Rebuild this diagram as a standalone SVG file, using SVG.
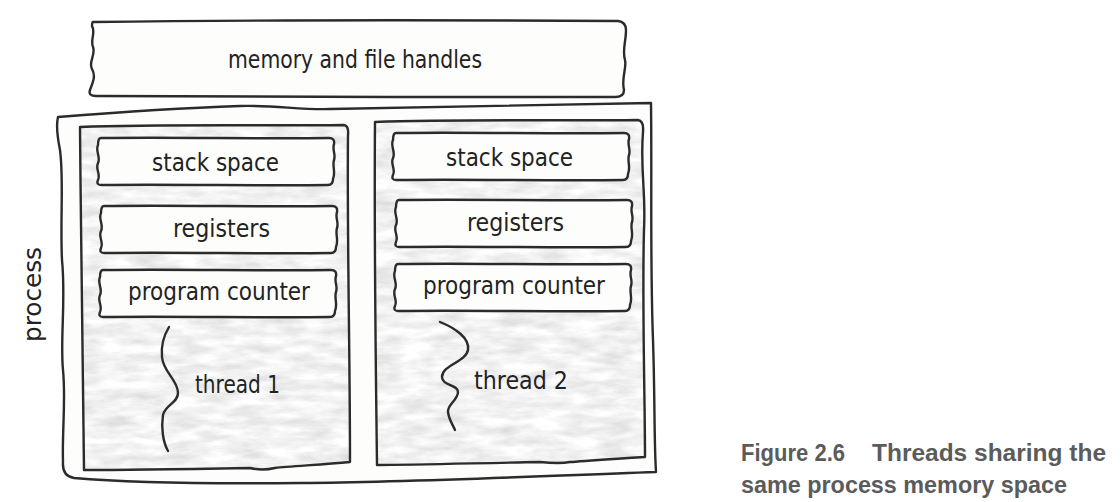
<svg xmlns="http://www.w3.org/2000/svg" xmlns:xlink="http://www.w3.org/1999/xlink" width="1120" height="502" viewBox="0 0 1120 502">
  <style>
    .ink { fill: none; stroke: #2b2b2b; stroke-width: 2.4; stroke-linejoin: round; stroke-linecap: round; }
    .card { fill: #fdfdfb; stroke: #2b2b2b; stroke-width: 2.4; stroke-linejoin: round; }
    .lbl { font-family: "DejaVu Sans", "Liberation Sans", sans-serif; font-size: 24px; fill: #222; }
    .cap { font-family: "Liberation Sans", Arial, sans-serif; font-size: 24px; font-weight: bold; fill: #5b5b5b; }
  </style>
  <defs>
    <filter id="paper" x="0" y="0" width="1" height="1" color-interpolation-filters="sRGB">
      <feTurbulence type="fractalNoise" baseFrequency="0.03 0.11" numOctaves="5" seed="9" result="n"/>
      <feColorMatrix in="n" type="matrix" values="0.22 0 0 0 0.84  0.22 0 0 0 0.84  0.22 0 0 0 0.84  0 0 0 0 1" result="g"/>
      <feComposite in="g" in2="SourceGraphic" operator="in"/>
    </filter>
    <path id="box" d="M 4,0 C 80,-1 160,1 232,0 Q 238,0 237,6 C 235,12 239,16 237,22 C 235,28 239,34 236,41 Q 236,47 231,47 C 160,48 80,46 4,47 Q -1,47 1,42 C 4,36 -2,31 1,25 C 4,19 -2,13 1,7 Q 1,0 4,0 Z"/>
    <path id="panel1" d="M 80,127 C 160,124 260,126 344,125 Q 349,126 348,135 C 347,240 350,350 350,462 C 320,465 290,466 275,468 C 266,470 258,470 250,468 C 190,469 130,470 84,470 C 83,380 81,250 80,127 Z"/>
    <path id="panel2" d="M 375,122 C 460,119 560,121 638,120 Q 644,121 643,132 C 640,170 646,190 644,230 C 642,300 645,400 645,457 C 610,459 585,461 570,462 C 560,464 550,463 540,462 C 480,463 420,465 377,465 C 376,380 374,250 375,122 Z"/>
  </defs>

  <g id="memory">
    <path class="card" d="M 93,22 C 250,20 450,20 618,21 Q 626,22 626,30 C 626,42 622,50 625,60 C 627,68 621,78 624,90 Q 624,97 615,97 C 450,98 250,96 96,96 Q 88,96 90,90 C 93,82 96,76 92,69 C 88,62 96,55 93,47 C 90,40 96,32 92,26 Q 92,22 93,22 Z"/>
    <text class="lbl" x="228" y="68" textLength="254" lengthAdjust="spacingAndGlyphs">memory and file handles</text>
  </g>

  <g id="process">
    <path class="card" d="M 58,117 C 120,112 180,108 240,106 C 275,105 300,110 330,109 C 440,107 550,104 651,103 C 652,180 650,260 653,340 C 655,400 654,440 656,472 C 540,476 420,482 300,483 C 200,484 120,482 74,478 Q 62,476 63,462 C 62,430 66,400 63,370 C 60,340 66,300 62,260 C 60,220 64,180 60,150 C 57,135 56,125 58,117 Z"/>
    <text class="lbl" transform="translate(41,342) rotate(-90)" font-size="26" textLength="95" lengthAdjust="spacingAndGlyphs">process</text>
  </g>

  <g id="thread1">
    <use xlink:href="#panel1" fill="#000" filter="url(#paper)"/>
    <use xlink:href="#panel1" class="ink"/>
    <g id="t1-stack">
      <use xlink:href="#box" class="card" transform="translate(97,138)"/>
      <text class="lbl" x="152" y="171" textLength="127" lengthAdjust="spacingAndGlyphs">stack space</text>
    </g>
    <g id="t1-registers">
      <use xlink:href="#box" class="card" transform="translate(100,206)"/>
      <text class="lbl" x="173" y="237" textLength="97" lengthAdjust="spacingAndGlyphs">registers</text>
    </g>
    <g id="t1-pc">
      <use xlink:href="#box" class="card" transform="translate(99,270)"/>
      <text class="lbl" x="128" y="300" textLength="182" lengthAdjust="spacingAndGlyphs">program counter</text>
    </g>
    <path class="ink" d="M 169,327 C 163,337 161,347 162,357 C 163,372 178,380 178,393 C 178,403 165,405 163,415 C 161,428 163,442 168,451"/>
    <text class="lbl" x="195" y="393" textLength="85" lengthAdjust="spacingAndGlyphs">thread 1</text>
  </g>

  <g id="thread2">
    <use xlink:href="#panel2" fill="#000" filter="url(#paper)"/>
    <use xlink:href="#panel2" class="ink"/>
    <g id="t2-stack">
      <use xlink:href="#box" class="card" transform="translate(392,133)"/>
      <text class="lbl" x="446" y="166" textLength="127" lengthAdjust="spacingAndGlyphs">stack space</text>
    </g>
    <g id="t2-registers">
      <use xlink:href="#box" class="card" transform="translate(395,200)"/>
      <text class="lbl" x="467" y="231" textLength="97" lengthAdjust="spacingAndGlyphs">registers</text>
    </g>
    <g id="t2-pc">
      <use xlink:href="#box" class="card" transform="translate(394,264)"/>
      <text class="lbl" x="423" y="294" textLength="182" lengthAdjust="spacingAndGlyphs">program counter</text>
    </g>
    <path class="ink" d="M 440,322 C 455,328 470,338 468,350 C 466,362 442,365 442,377 C 442,386 458,384 458,392 C 458,400 447,405 448,412 C 449,420 453,425 455,430"/>
    <text class="lbl" x="474" y="389" textLength="94" lengthAdjust="spacingAndGlyphs">thread 2</text>
  </g>

  <g id="connectors"></g>

  <g id="caption">
    <text class="cap" x="741" y="461" textLength="104" lengthAdjust="spacingAndGlyphs">Figure 2.6</text>
    <text class="cap" x="872" y="461" textLength="234" lengthAdjust="spacingAndGlyphs">Threads sharing the</text>
    <text class="cap" x="741" y="493" textLength="326" lengthAdjust="spacingAndGlyphs">same process memory space</text>
  </g>
</svg>
